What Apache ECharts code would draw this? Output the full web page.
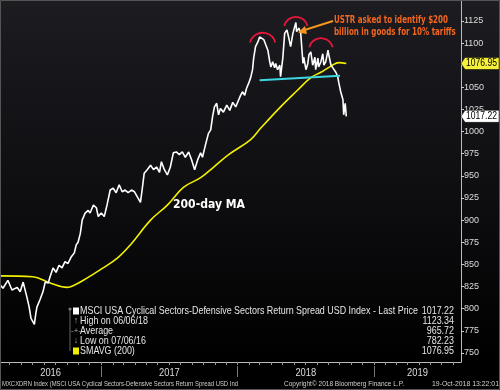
<!DOCTYPE html>
<html><head><meta charset="utf-8">
<script src="https://cdn.jsdelivr.net/npm/echarts@6/dist/echarts.min.js"></script>
<style>html,body{margin:0;padding:0;background:#000}#c{width:500px;height:390px}</style>
</head><body><div id="c"></div>
<script>
// ---- data ----
var priceDates = ['2016-04-05','2016-04-13','2016-04-26','2016-05-07','2016-05-21','2016-05-29','2016-06-06','2016-06-16','2016-06-22','2016-06-27','2016-07-06','2016-07-10','2016-07-13','2016-07-21','2016-07-29','2016-08-04','2016-08-12','2016-08-17','2016-08-25','2016-09-02','2016-09-10','2016-09-18','2016-09-26','2016-10-04','2016-10-12','2016-10-21','2016-10-26','2016-10-31','2016-11-06','2016-11-11','2016-11-19','2016-11-27','2016-12-02','2016-12-11','2016-12-19','2016-12-24','2017-01-01','2017-01-09','2017-01-17','2017-01-25','2017-02-02','2017-02-10','2017-02-18','2017-02-26','2017-03-06','2017-03-14','2017-03-23','2017-03-31','2017-04-08','2017-04-16','2017-04-21','2017-04-26','2017-05-04','2017-05-13','2017-05-21','2017-05-29','2017-06-06','2017-06-11','2017-06-19','2017-06-27','2017-07-05','2017-07-13','2017-07-21','2017-07-29','2017-08-06','2017-08-14','2017-08-23','2017-08-31','2017-09-08','2017-09-16','2017-09-24','2017-09-29','2017-10-07','2017-10-15','2017-10-21','2017-10-26','2017-10-31','2017-11-06','2017-11-11','2017-11-16','2017-11-24','2017-12-03','2017-12-11','2017-12-19','2017-12-27','2018-01-04','2018-01-09','2018-01-14','2018-01-20','2018-01-25','2018-01-31','2018-02-05','2018-02-10','2018-02-13','2018-02-18','2018-02-24','2018-03-01','2018-03-06','2018-03-12','2018-03-17','2018-03-23','2018-03-28','2018-03-31','2018-04-05','2018-04-10','2018-04-13','2018-04-18','2018-04-24','2018-04-26','2018-05-02','2018-05-07','2018-05-13','2018-05-18','2018-05-23','2018-05-29','2018-06-06','2018-06-08','2018-06-14','2018-06-19','2018-06-25','2018-06-27','2018-07-03','2018-07-08','2018-07-11','2018-07-16','2018-07-21','2018-07-27','2018-07-29','2018-08-04','2018-08-06','2018-08-12','2018-08-17','2018-08-20','2018-08-25','2018-08-31','2018-09-02','2018-09-08','2018-09-13','2018-09-16','2018-09-21','2018-09-26','2018-09-29','2018-10-04','2018-10-10','2018-10-12','2018-10-16','2018-10-19'];
var priceValues = [827,823,832,821,824,819,830,813,802,789,782.23,795,802,810,819,830,829,836,846,841,849,846,853,851,858,863,872,875,885,900,908,911,908,917,914,904,908,904,918,934,936,931,940,932,934,931,934,932,926,920,936,953,957,962,957,960,954,966,957,951,960,976,977,974,977,971,977,968,957,968,976,971,985,998,1002,1017,1028,1032,1019,1026,1022,1030,1024,1033,1028,1036,1041,1045,1041,1049,1055,1061,1070,1083,1096,1101,1107,1109,1104,1106,1092,1079,1073,1079,1072,1077,1070,1075,1062,1083,1111,1115,1106,1096,1111,1123.34,1113,1117,1111,1077,1084,1070,1077,1087,1090,1075,1084,1070,1083,1073,1079,1088,1075,1079,1092,1087,1075,1072,1073,1067,1062,1055,1045,1036,1019,1032,1017.22];

var smaDates = ['2016-04-05','2016-07-02','2016-08-17','2016-10-02','2016-10-23','2016-11-14','2016-12-11','2017-01-06','2017-02-13','2017-03-20','2017-05-13','2017-06-27','2017-08-09','2017-09-24','2017-10-29','2017-12-08','2018-02-05','2018-03-04','2018-04-26','2018-06-11','2018-07-16','2018-08-12','2018-09-08','2018-09-29','2018-10-19'];
var smaValues = [837,836,829,824,827,832,839,846,857,872,900,917,937,948,960,974,991,1004,1028,1047,1061,1067,1074,1078,1076.95];

// neckline and head/shoulder arc anchors (date, value)
var necklineDates = ['2018-03-01','2018-10-02'];
var necklineValues = [1058,1063];
var arcCenterDates = ['2018-03-09','2018-06-06','2018-08-12'];
var arcCenterValues = [1097,1116,1092];

var yTicks = [750,775,800,825,850,875,900,925,950,975,1000,1025,1050,1075,1100,1125];
var yearLabels = ['2016','2017','2018','2019'];

var legendNames = ['MSCI USA Cyclical Sectors-Defensive Sectors Return Spread USD Index - Last Price','High on 06/06/18','Average','Low on 07/06/16','SMAVG (200)'];
var legendValues = ['1017.22','1123.34','965.72','782.23','1076.95'];

var xMin = '2016-04-05', xMax = '2019-08-22';
var FONT = '"Liberation Sans",Arial,sans-serif';

function T(s){ var p = s.split('-'); return Date.UTC(+p[0], +p[1]-1, +p[2]); }
function zip(a,b){ return a.map(function(d,i){ return [T(d),b[i]]; }); }

// text width fitting helper (horizontal condensation like the Bloomberg font)
var mctx = document.createElement('canvas').getContext('2d');
function fitScale(text, font, target){ mctx.font = font; return target / mctx.measureText(text).width; }

// month ticks and year separators
var monthTicks = [];
for (var y = 2016; y <= 2019; y++) for (var m = 0; m < 12; m++) {
  var t = Date.UTC(y, m, 1);
  if (t >= T(xMin) && t <= T(xMax)) monthTicks.push(t);
}
var yearSeps = [T('2017-01-01'), T('2018-01-01'), T('2019-01-01')];
var yearLabelPos = [(T(xMin)+yearSeps[0])/2, (yearSeps[0]+yearSeps[1])/2, (yearSeps[1]+yearSeps[2])/2, (yearSeps[2]+T(xMax))/2];

var chart = echarts.init(document.getElementById('c'));
var option = {
  animation: false,
  backgroundColor: {type:'linear', x:0, y:0, x2:0, y2:1, colorStops:[{offset:0,color:'#1c1c21'},{offset:0.5,color:'#0e0e11'},{offset:0.92,color:'#000'},{offset:1,color:'#000'}]},
  grid: {left: 0, right: 39, top: 0, bottom: 28},
  xAxis: [{
    type: 'value', min: T(xMin), max: T(xMax),
    axisLine: {show: true, lineStyle: {color: '#bbb', width: 1}},
    axisTick: {show: true, customValues: monthTicks, length: 3, lineStyle: {color: '#999'}},
    axisLabel: {show: false}, splitLine: {show: false}
  }, {
    type: 'value', min: T(xMin), max: T(xMax), position: 'bottom', offset: 4,
    axisLine: {show: false},
    axisTick: {show: true, customValues: yearSeps, length: 11, lineStyle: {color: '#777', width: 1}},
    axisLabel: {show: false},
    splitLine: {show: false}
  }],
  yAxis: {
    type: 'value', position: 'right', min: 739.7, max: 1148.7,
    axisLine: {show: true, lineStyle: {color: '#bbb', width: 1}},
    axisTick: {show: true, customValues: yTicks, length: 3, lineStyle: {color: '#ccc'}},
    axisLabel: {show: true, customValues: yTicks, margin: 3, color: '#ddd', fontSize: 9, fontFamily: FONT,
      formatter: function(v){ return String(v); }},
    splitLine: {show: false}
  },
  series: [{
    name: 'SMAVG', type: 'line', data: zip(smaDates, smaValues), smooth: 0.4, showSymbol: false,
    lineStyle: {color: '#f2f000', width: 1.6}, z: 3
  }, {
    name: 'Price', type: 'line', data: zip(priceDates, priceValues), showSymbol: false,
    lineStyle: {color: '#ffffff', width: 1.6}, z: 4
  }, {
    name: 'Neckline', type: 'line', data: zip(necklineDates, necklineValues), showSymbol: false,
    lineStyle: {color: '#3ed6e0', width: 2}, z: 5
  }]
};
chart.setOption(option);

var g = [];
function txt(s, x, y, font, fill, scale, align, z){
  g.push({type:'text', z: z || 11, x: x, y: y, scaleX: scale, scaleY: 1,
    style:{text: s, fill: fill, font: font, verticalAlign: 'middle', align: align || 'left'}});
}
// head & shoulders arcs
var arcR = [13, 12, 12];
arcCenterDates.forEach(function(d, i){
  var p = chart.convertToPixel({gridIndex: 0}, [T(d), arcCenterValues[i]]);
  g.push({type:'arc', z: 10, shape:{cx:p[0], cy:p[1], r:arcR[i], startAngle:Math.PI*1.08, endAngle:Math.PI*1.92, clockwise:true},
    style:{stroke:'#e3183c', lineWidth:1.8, fill:null}});
});
// orange arrow & annotation
g.push({type:'line', z:10, shape:{x1:333, y1:21, x2:303, y2:30.5}, style:{stroke:'#f7961c', lineWidth:2}});
g.push({type:'polygon', z:10, shape:{points:[[298,32.5],[305,26],[307,34]]}, style:{fill:'#f7961c'}});
var annFont = 'bold 10px "DejaVu Sans",sans-serif';
var annScale = fitScale('USTR asked to identify $200', annFont, 114);
txt('USTR asked to identify $200', 334, 20, annFont, '#f2661f', annScale);
txt('billion in goods for 10% tariffs', 334, 32, annFont, '#f2661f', annScale);
// 200-day MA label
var maFont = 'bold 13px "DejaVu Sans",sans-serif';
txt('200-day MA', 173, 205, maFont, '#ffffff', fitScale('200-day MA', maFont, 72));

// year labels under the axis
var yrFont = '11px ' + FONT;
yearLabelPos.forEach(function(v, i){
  var x = chart.convertToPixel({xAxisIndex: 0}, v);
  txt(yearLabels[i], x, 372.5, yrFont, '#dddddd', 0.85, 'center');
});

// right value tags
var tagFont = '10.5px ' + FONT;
function tag(val, bg){
  var y = chart.convertToPixel({yAxisIndex: 0}, val);
  g.push({type:'polygon', z:20, shape:{points:[[461,y],[465,y-6],[499,y-6],[499,y+6],[465,y+6]]}, style:{fill:bg, stroke:'#000', lineWidth:0.5}});
  txt(val.toFixed(2), 466, y, tagFont, '#000', fitScale(val.toFixed(2), tagFont, 31), 'left', 21);
}
tag(smaValues[smaValues.length-1], '#f7f03a');
tag(priceValues[priceValues.length-1], '#ffffff');

// legend block
var ly0 = 311, ldy = 10;
var legFont = '10.5px ' + FONT;
var legScale = fitScale(legendNames[0], legFont, 338);
g.push({type:'line', z:10, shape:{x1:70, y1:309, x2:70, y2:351}, style:{stroke:'#666', lineWidth:1}});
g.push({type:'circle', z:10, shape:{cx:70, cy:309, r:1.6}, style:{fill:'#777'}});
legendNames.forEach(function(n, i){
  var y = ly0 + i*ldy;
  txt(n, 80, y, legFont, '#e6e6e6', legScale);
  txt(legendValues[i], 454, y, legFont, '#e6e6e6', legScale, 'right');
});
g.push({type:'rect', z:11, shape:{x:73, y:ly0-3.5, width:6, height:7}, style:{fill:'#fff'}});
txt('\u2191', 76, ly0+ldy, '9px '+FONT, '#aaa', 1, 'center');
txt('-+-', 76, ly0+2*ldy, '8px '+FONT, '#aaa', 1, 'center');
txt('\u2193', 76, ly0+3*ldy, '9px '+FONT, '#aaa', 1, 'center');
g.push({type:'rect', z:11, shape:{x:73, y:ly0+4*ldy-3.5, width:6, height:7}, style:{fill:'#f2f000'}});

// footer
var ftFont = '8px ' + FONT;
var f1 = 'MXCXDRN Index (MSCI USA Cyclical Sectors-Defensive Sectors Return Spread USD Ind';
var f2 = 'Copyright\u00a9 2018 Bloomberg Finance L.P.';
var f3 = '19-Oct-2018 13:22:01';
txt(f1, 2, 384, ftFont, '#cfcfcf', fitScale(f1, ftFont, 236), 'left', 10);
txt(f2, 284, 384, ftFont, '#cfcfcf', fitScale(f2, ftFont, 120), 'left', 10);
txt(f3, 499, 384, ftFont, '#cfcfcf', fitScale(f3, ftFont, 67), 'right', 10);
// outer border
g.push({type:'rect', z:30, shape:{x:0.5, y:0.5, width:499, height:389}, style:{fill:null, stroke:'#555', lineWidth:1}});

chart.setOption({graphic: g});
</script>
</body></html>
